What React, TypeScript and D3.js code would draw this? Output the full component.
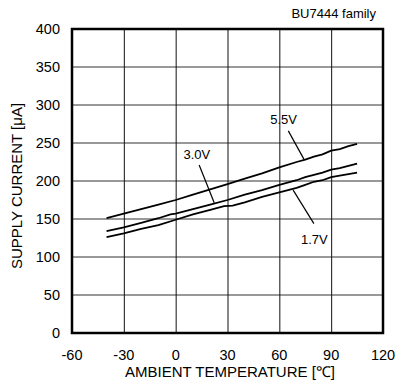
import React from "react";
import * as d3 from "d3";

const xTicks = [-60, -30, 0, 30, 60, 90, 120];
const yTicks = [0, 50, 100, 150, 200, 250, 300, 350, 400];

const temps55 = [-40, -30, -20, -10, 0, 10, 20, 30, 40, 50, 60, 70, 75, 80, 85, 90, 95, 100, 105];
const vals55 = [151, 157, 163, 169, 175, 182, 189, 196, 203, 210, 218, 225, 228, 232, 235, 240, 242, 246, 249];

const temps30 = [-40, -30, -20, -10, -3, 0, 10, 20, 30, 40, 50, 60, 70, 75, 80, 85, 90, 95, 100, 105];
const vals30 = [134, 139, 145, 151, 156, 157, 163, 169, 175, 182, 188, 195, 201, 205, 208, 211, 215, 217, 220, 223];

const temps17 = [-40, -30, -20, -10, 0, 10, 20, 28, 33, 40, 50, 60, 70, 75, 80, 85, 90, 95, 100, 105];
const vals17 = [126, 131, 137, 142, 149, 156, 162, 167, 167.5, 172, 179, 185, 191, 195, 199, 201, 205, 207, 209, 211];

const seriesNames = ["5.5V", "3.0V", "1.7V"];
const seriesTemps = [temps55, temps30, temps17];
const seriesVals = [vals55, vals30, vals17];

// annotation: label position and leader line, in data units
const labelTemp = [62.5, 12.3, 80.3];
const labelVal = [274.6, 228.5, 116.7];
const leaderFromTemp = [65.2, 13.6, 68];
const leaderFromVal = [266, 221, 188];
const leaderToTemp = [74.3, 22.3, 80];
const leaderToVal = [228.5, 171.4, 144];

const xTitle = "AMBIENT TEMPERATURE [℃]";
const yTitle = "SUPPLY CURRENT [μA]";
const note = "BU7444 family";

export default function App() {
  const W = 398, H = 380;
  const left = 72, right = 383, top = 29, bottom = 333;
  const x = d3.scaleLinear().domain([-60, 120]).range([left, right]);
  const y = d3.scaleLinear().domain([0, 400]).range([bottom, top]);
  const line = d3.line<[number, number]>().x(d => x(d[0])).y(d => y(d[1]));
  const font = "'Liberation Sans', Arial, sans-serif";

  return (
    <svg width={W} height={H} style={{ position: "absolute", left: 0, top: 0, background: "#fff" }} fontFamily={font}>
      <rect x={0} y={0} width={W} height={H} fill="#fff" />
      {yTicks.map(t => (
        <line key={"h" + t} x1={left} x2={right} y1={y(t)} y2={y(t)} stroke="#333" strokeWidth={1} />
      ))}
      {xTicks.map(t => (
        <line key={"v" + t} x1={x(t) + 0.5} x2={x(t) + 0.5} y1={top} y2={bottom} stroke="#111" strokeWidth={1} />
      ))}
      <rect x={left} y={top} width={right - left} height={bottom - top} fill="none" stroke="#000" strokeWidth={2.5} />
      {seriesNames.map((n, i) => (
        <path
          key={n}
          d={line(seriesTemps[i].map((t, j) => [t, seriesVals[i][j]] as [number, number])) || ""}
          fill="none"
          stroke="#000"
          strokeWidth={1.8}
        />
      ))}
      {seriesNames.map((n, i) => (
        <g key={"a" + n}>
          <line
            x1={x(leaderFromTemp[i])}
            y1={y(leaderFromVal[i])}
            x2={x(leaderToTemp[i])}
            y2={y(leaderToVal[i])}
            stroke="#000"
            strokeWidth={1.2}
          />
          <text x={x(labelTemp[i])} y={y(labelVal[i])} textAnchor="middle" fontSize={13} fill="#000">
            {n}
          </text>
        </g>
      ))}
      {yTicks.map(t => (
        <text key={"yl" + t} x={60} y={y(t) + 5} textAnchor="end" fontSize={14.5} fill="#000">
          {t}
        </text>
      ))}
      {xTicks.map(t => (
        <text key={"xl" + t} x={x(t)} y={360} textAnchor="middle" fontSize={14.5} fill="#000">
          {t}
        </text>
      ))}
      <text x={230} y={377} textAnchor="middle" fontSize={15} fill="#000">
        {xTitle}
      </text>
      <text
        transform={`translate(22,${(top + bottom) / 2 + 5}) rotate(-90)`}
        textAnchor="middle"
        fontSize={15}
        fill="#000"
      >
        {yTitle}
      </text>
      <text x={376} y={18} textAnchor="end" fontSize={13} fill="#000">
        {note}
      </text>
    </svg>
  );
}
